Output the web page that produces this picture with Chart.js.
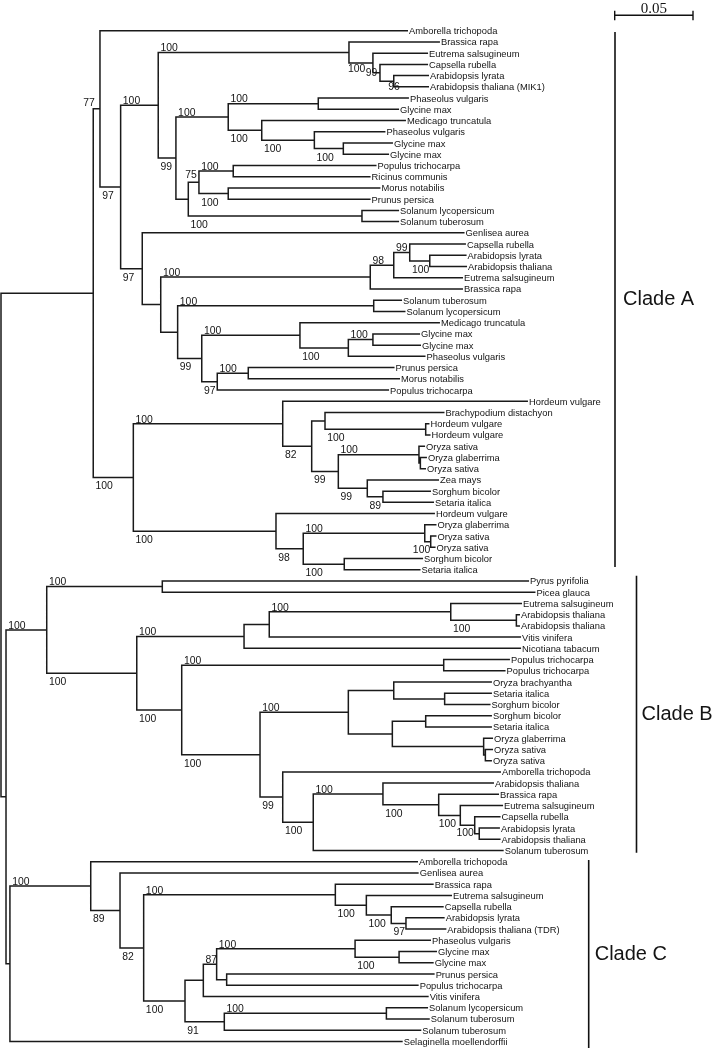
<!DOCTYPE html>
<html>
<head>
<meta charset="utf-8">
<script src="https://cdn.jsdelivr.net/npm/chart.js@4.4.1/dist/chart.umd.min.js"></script>
<style>
  html, body { margin: 0; padding: 0; background: #ffffff; }
  #wrap { position: relative; width: 718px; height: 1050px; }
</style>
</head>
<body>
<div id="wrap"><canvas id="c"></canvas></div>
<script>
// ---------------- DATA ----------------
// Leaves in top-to-bottom order
const leafNames = [
  'Amborella trichopoda','Brassica rapa','Eutrema salsugineum','Capsella rubella','Arabidopsis lyrata','Arabidopsis thaliana (MIK1)',
  'Phaseolus vulgaris','Glycine max','Medicago truncatula','Phaseolus vulgaris','Glycine max','Glycine max',
  'Populus trichocarpa','Ricinus communis','Morus notabilis','Prunus persica','Solanum lycopersicum','Solanum tuberosum',
  'Genlisea aurea','Capsella rubella','Arabidopsis lyrata','Arabidopsis thaliana','Eutrema salsugineum','Brassica rapa',
  'Solanum tuberosum','Solanum lycopersicum','Medicago truncatula','Glycine max','Glycine max','Phaseolus vulgaris',
  'Prunus persica','Morus notabilis','Populus trichocarpa','Hordeum vulgare','Brachypodium distachyon','Hordeum vulgare',
  'Hordeum vulgare','Oryza sativa','Oryza glaberrima','Oryza sativa','Zea mays','Sorghum bicolor','Setaria italica',
  'Hordeum vulgare','Oryza glaberrima','Oryza sativa','Oryza sativa','Sorghum bicolor','Setaria italica',
  'Pyrus pyrifolia','Picea glauca','Eutrema salsugineum','Arabidopsis thaliana','Arabidopsis thaliana','Vitis vinifera',
  'Nicotiana tabacum','Populus trichocarpa','Populus trichocarpa','Oryza brachyantha','Setaria italica','Sorghum bicolor',
  'Sorghum bicolor','Setaria italica','Oryza glaberrima','Oryza sativa','Oryza sativa','Amborella trichopoda',
  'Arabidopsis thaliana','Brassica rapa','Eutrema salsugineum','Capsella rubella','Arabidopsis lyrata','Arabidopsis thaliana',
  'Solanum tuberosum',
  'Amborella trichopoda','Genlisea aurea','Brassica rapa','Eutrema salsugineum','Capsella rubella','Arabidopsis lyrata',
  'Arabidopsis thaliana (TDR)','Phaseolus vulgaris','Glycine max','Glycine max','Prunus persica','Populus trichocarpa',
  'Vitis vinifera','Solanum lycopersicum','Solanum tuberosum','Solanum tuberosum','Selaginella moellendorffii'
];
// Distance of each tip from the root (substitutions per site)
const leafDepth = [
  0.2599,0.2803,0.2727,0.2727,0.2733,0.2733,
  0.2605,0.2542,0.2586,0.2455,0.2503,0.2478,
  0.2398,0.2360,0.2423,0.2360,0.2542,0.2542,
  0.2960,0.2969,0.2973,0.2976,0.2950,0.2950,
  0.2561,0.2583,0.2803,0.2676,0.2682,0.2711,
  0.2513,0.2548,0.2478,0.3365,0.2832,0.2736,
  0.2743,0.2708,0.2720,0.2714,0.2797,0.2746,0.2765,
  0.2771,0.2781,0.2781,0.2775,0.2695,0.2679,
  0.3372,0.3413,0.3327,0.3314,0.3314,0.3321,
  0.3321,0.3250,0.3222,0.3135,0.3135,0.3126,
  0.3135,0.3135,0.3142,0.3142,0.3135,0.3193,
  0.3148,0.3180,0.3206,0.3190,0.3186,0.3190,
  0.3210,
  0.2663,0.2667,0.2763,0.2880,0.2827,0.2833,
  0.2844,0.2746,0.2784,0.2763,0.2769,0.2667,
  0.2731,0.2727,0.2738,0.2684,0.2565
];
// Internal nodes: id, depth, [upper child, lower child] (numbers = leaf index), bootstrap support
const nodeIds = ['R','A0','A1','A2','A3','A5','A7','A8','A9','A6','A10','A12','A13','A14','A15','A11','A16','A17','A18','A19',
  'A4','A21','A24','A25','A26','A27','A23','A28','A29','A30','A33','A34','A31','A32',
  'AM','AM1','AM3','AM4','AM6','AM5','AM7','AM9','AM8','AM10','AM2','AM11','AM12','AM14','AM13',
  'N6','B','P1','B2','B3','B5','B6','B7','B4','B8','B9','B10','B11','B13','B12','B15','B16','B17',
  'B14','B18','B19','B20','B21','B22','B23',
  'C0','C1','C2','C3','C4','C6','C7','C8','C5','C9','C10','C13','C16','C15','C11','C12'];
const nodeDepth = [0,0.0589,0.0632,0.0764,0.1004,0.2222,0.2375,0.2420,0.2508,0.1117,0.1451,0.2026,0.1665,0.2001,0.2186,0.1196,0.1264,0.1483,0.1451,0.2305,
  0.0902,0.1020,0.2358,0.2508,0.2610,0.2738,0.1128,0.2380,0.1282,0.1909,0.2218,0.2375,0.1381,0.1579,
  0.0845,0.1799,0.1984,0.2069,0.2712,0.2154,0.2669,0.2678,0.2339,0.2439,0.1756,0.1930,0.2706,0.2744,0.2192,
  0.0032,0.0292,0.1030,0.0867,0.1552,0.1713,0.2872,0.3291,0.1154,0.2827,0.1654,0.2218,0.2508,0.2833,0.2499,0.2712,0.3082,0.3093,
  0.1799,0.1994,0.2439,0.2795,0.2933,0.3025,0.3054,
  0.0057,0.0573,0.0760,0.0911,0.2135,0.2333,0.2492,0.2586,0.1175,0.1292,0.1377,0.2261,0.2542,0.1441,0.1426,0.2461];
const nodeKids = [['A0','N6'],['A1','AM'],[0,'A2'],['A3','A4'],['A5','A6'],[1,'A7'],[2,'A8'],[3,'A9'],[4,5],['A10','A11'],['A12','A13'],[6,7],[8,'A14'],[9,'A15'],[10,11],['A16','A19'],['A17','A18'],[12,13],[14,15],[16,17],
  [18,'A21'],['A24','A23'],['A25',23],['A26',22],[19,'A27'],[20,21],['A28','A29'],[24,25],['A30','A31'],[26,'A33'],['A34',29],[27,28],['A32',32],[30,31],
  ['AM1','AM2'],[33,'AM3'],['AM4','AM5'],[34,'AM6'],[35,36],['AM7','AM8'],[37,'AM9'],[38,39],[40,'AM10'],[41,42],[43,'AM11'],['AM12','AM13'],[44,'AM14'],[45,46],[47,48],
  ['B','C0'],['P1','B2'],[49,50],['B3','B4'],['B5',55],['B6',54],[51,'B7'],[52,53],['B8','B9'],[56,57],['B10','B14'],['B11','B12'],[58,'B13'],[59,60],['B15','B16'],[61,62],[63,'B17'],[64,65],
  [66,'B18'],['B19',73],[67,'B20'],[68,'B21'],[69,'B22'],[70,'B23'],[71,72],
  ['C1',90],[74,'C2'],[75,'C3'],['C4','C5'],[76,'C6'],[77,'C7'],[78,'C8'],[79,80],['C9','C11'],['C10',86],['C13','C15'],[81,'C16'],[82,83],[84,85],['C12',89],[87,88]];
const nodeSupport = [null,null,77,97,100,100,100,99,96,99,100,100,100,100,100,null,75,100,100,100,
  97,null,100,98,99,100,null,100,99,100,100,100,97,100,
  100,100,82,null,100,99,100,null,99,89,100,98,100,100,100,
  null,100,100,100,100,null,100,100,100,100,100,100,null,null,null,null,null,null,
  99,100,100,100,null,100,100,
  null,100,89,82,100,100,100,97,100,null,87,100,100,null,91,100];

const cladeNames = ['Clade A','Clade B','Clade C'];
const cladeFirstLeaf = [0,49,74];
const cladeLastLeaf = [48,73,90];
const scaleBarValue = 0.05;
const scaleBarLabel = '0.05';

// ---------------- LAYOUT / STYLE ----------------
const PX_PER_UNIT = 1566;
const ROW = 11.23, TOP = 30.7, W = 718, H = 1050;
const LINE = '#1a1a1a';
const leafFont = '9.8px "Liberation Sans", Arial, sans-serif';
const leafSquash = 0.955;
const supFont = '10.4px "Liberation Sans", Arial, sans-serif';
// support labels that sit off the usual above/below spot: [align, ref ('p' parent / 'c' node), dx, dy]
const supportOverride = {
  A1: ['right','p',1.5,-3],
  A7: ['left','p',-1,9.3],
  A8: ['right','p',4.3,3.6],
  A9: ['right','c',6,9],
  A16: ['left','p',-3,-4],
  AM14: ['right','c',-0.5,11.5],
  B22: ['right','p',-4.2,2],
  B23: ['right','p',-1,2]
};
const cladeBarX = [615, 636.5, 588.7];
const cladeBarPad = [[1.3,-2.7],[-5.3,2.2],[-1.7,6.6]];
const cladeTextGap = [8, 5, 6];

// ---------------- TREE GEOMETRY ----------------
const idx = {};
nodeIds.forEach((id, i) => idx[id] = i);
const parentOf = {};
nodeKids.forEach((k, i) => k.forEach((c, j) => parentOf[c] = { p: nodeIds[i], pos: j }));
const yCache = {};
function yOf(ref) {
  if (typeof ref === 'number') return ref;
  if (yCache[ref] !== undefined) return yCache[ref];
  const k = nodeKids[idx[ref]];
  return (yCache[ref] = (yOf(k[0]) + yOf(k[1])) / 2);
}
function xOf(ref) { return typeof ref === 'number' ? leafDepth[ref] : nodeDepth[idx[ref]]; }

const treePoints = [];
nodeIds.forEach((id, i) => {
  const [a, b] = nodeKids[i];
  const nx = nodeDepth[i];
  treePoints.push({ x: xOf(a), y: yOf(a) }, { x: nx, y: yOf(a) }, { x: nx, y: yOf(b) }, { x: xOf(b), y: yOf(b) }, { x: nx, y: null });
});

const xMin = -1 / PX_PER_UNIT, xMax = (W - 1) / PX_PER_UNIT;
const yMin = -TOP / ROW, yMax = yMin + H / ROW;

const labelPlugin = {
  id: 'treeLabels',
  afterDatasetsDraw(chart) {
    const ctx = chart.ctx, xs = chart.scales.x, ys = chart.scales.y;
    const X = v => xs.getPixelForValue(v), Y = v => ys.getPixelForValue(v);
    ctx.save();
    ctx.fillStyle = '#141414';
    // leaf names
    ctx.font = leafFont; ctx.textAlign = 'left'; ctx.textBaseline = 'alphabetic';
    leafNames.forEach((n, i) => {
      ctx.save();
      ctx.translate(X(leafDepth[i]) + 1, Y(i) + 3.5);
      ctx.scale(leafSquash, 1);
      ctx.fillText(n, 0, 0);
      ctx.restore();
    });
    // bootstrap values
    ctx.font = supFont;
    nodeIds.forEach((id, i) => {
      const s = nodeSupport[i];
      if (s === null || !parentOf[id]) return;
      const par = parentOf[id];
      const px = X(nodeDepth[idx[par.p]]), cx = X(nodeDepth[i]), cy = Y(yOf(id));
      const ov = supportOverride[id];
      if (ov) {
        ctx.textAlign = ov[0];
        ctx.fillText(String(s), (ov[1] === 'p' ? px : cx) + ov[2], cy + ov[3]);
      } else {
        ctx.textAlign = 'left';
        ctx.fillText(String(s), px + 2.2, par.pos === 0 ? cy - 1.2 : cy + 12);
      }
    });
    // clade bars
    ctx.strokeStyle = '#111'; ctx.lineWidth = 1.6;
    ctx.font = '20px "Liberation Sans", Arial, sans-serif';
    ctx.textAlign = 'left'; ctx.textBaseline = 'middle';
    cladeNames.forEach((n, k) => {
      const y0 = Y(cladeFirstLeaf[k]) + cladeBarPad[k][0];
      const y1 = Y(cladeLastLeaf[k]) + cladeBarPad[k][1];
      ctx.beginPath(); ctx.moveTo(cladeBarX[k], y0); ctx.lineTo(cladeBarX[k], y1); ctx.stroke();
      ctx.fillText(n, cladeBarX[k] + cladeTextGap[k], (y0 + y1) / 2);
    });
    // scale bar
    const sx0 = 614.7, sy = 15.3;
    const sx1 = sx0 + (X(scaleBarValue) - X(0));
    ctx.lineWidth = 1.4;
    ctx.beginPath();
    ctx.moveTo(sx0, sy); ctx.lineTo(sx1, sy);
    ctx.moveTo(sx0, sy - 4.5); ctx.lineTo(sx0, sy + 5);
    ctx.moveTo(sx1, sy - 4.5); ctx.lineTo(sx1, sy + 5);
    ctx.stroke();
    ctx.font = '15px "Liberation Serif", "Times New Roman", serif';
    ctx.textAlign = 'center'; ctx.textBaseline = 'alphabetic';
    ctx.fillText(scaleBarLabel, (sx0 + sx1) / 2, 13.3);
    ctx.restore();
  }
};

new Chart(document.getElementById('c'), {
  type: 'scatter',
  data: {
    datasets: [{
      data: treePoints,
      showLine: true,
      spanGaps: false,
      borderColor: LINE,
      borderWidth: 1.5,
      borderJoinStyle: 'miter',
      borderCapStyle: 'butt',
      pointRadius: 0,
      pointHoverRadius: 0,
      tension: 0,
      clip: false
    }]
  },
  options: {
    responsive: true,
    maintainAspectRatio: false,
    devicePixelRatio: 1,
    animation: false,
    layout: { padding: 0 },
    events: [],
    plugins: { legend: { display: false }, tooltip: { enabled: false }, title: { display: false } },
    scales: {
      x: { type: 'linear', min: xMin, max: xMax, display: false },
      y: { type: 'linear', min: yMin, max: yMax, reverse: true, display: false }
    }
  },
  plugins: [labelPlugin]
});
</script>
</body>
</html>
